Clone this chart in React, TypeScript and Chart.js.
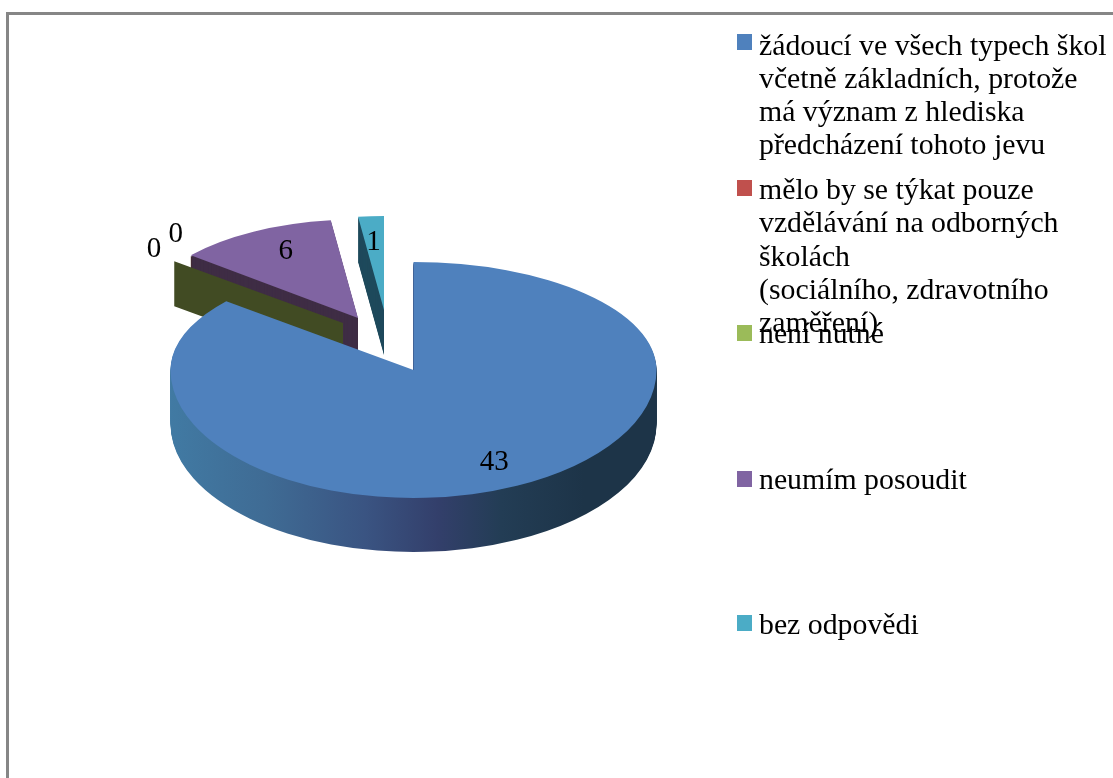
import React, { useEffect, useRef } from "react";
import { Chart, registerables } from "chart.js";

Chart.register(...registerables);

const categories = [
  ["žádoucí ve všech typech škol", "včetně základních, protože", "má význam z hlediska", "předcházení tohoto jevu"],
  ["mělo by se týkat pouze", "vzdělávání na odborných", "školách", "(sociálního, zdravotního", "zaměření)"],
  ["není nutné"],
  ["neumím posoudit"],
  ["bez odpovědi"],
];
const values = [43, 0, 0, 6, 1];
const faceColors = ["#4f81bd", "#c0504d", "#9bbb59", "#8064a2", "#4bacc6"];
const wallColors = ["#33466f", "#4a2a28", "#414b23", "#3f2d45", "#1f4a5c"];
const blueWallStops = ["#417aa3", "#3f6b94", "#3a5482", "#333f6b", "#233d55", "#1d3448", "#1d3448"];
const blueWallOffsets = [0, 0.2, 0.4, 0.55, 0.68, 0.85, 1];

const LABEL_FONT = '29px "Liberation Serif"';
const LEGEND_FONT = '29.8px "Liberation Serif"';
const RADIUS = 243;
const DEPTH_BLUE = 54;
const DEPTH = 45;
const LABEL_BASELINE_SHIFT = 2.5;

// 3D-look placement of every slice: tip position, horizontal and vertical scale of its radius
const projection = [
  { x: 413.5, y: 370, sx: 1, syUp: 108 / 243, syDown: 128 / 243, depth: DEPTH_BLUE, lx: 0.78, ly: 0.78 },
  { x: 358, y: 318, sx: 217 / 243, syUp: 97 / 243, syDown: 97 / 243, depth: DEPTH, lx: 1.09, ly: 1.4 },
  { x: 343, y: 323, sx: 219 / 243, syUp: 97 / 243, syDown: 97 / 243, depth: DEPTH, lx: 1.12, ly: 1.23 },
  { x: 358, y: 318, sx: 217 / 243, syUp: 98.5 / 243, syDown: 98.5 / 243, depth: DEPTH, lx: 0.69, ly: 0.8 },
  { x: 384, y: 310, sx: 207 / 243, syUp: 94 / 243, syDown: 94 / 243, depth: DEPTH, lx: 0.8, ly: 0.75 },
];
const drawOrder = [1, 3, 4, 2, 0];

const legendLayout = [
  { swatchTop: 34, baselines: [55, 88, 121, 154] },
  { swatchTop: 180, baselines: [199, 232, 266, 299, 332] },
  { swatchTop: 325, baselines: [343] },
  { swatchTop: 471, baselines: [489] },
  { swatchTop: 615, baselines: [634] },
];

function drawArcAt(ctx: any, arc: any, p: any, dy: number, fill: any) {
  const saved = arc.options;
  arc.options = { ...saved, backgroundColor: fill };
  const parts = [
    { sy: p.syUp, top: -10000, height: 10000 + p.y + dy },
    { sy: p.syDown, top: p.y + dy, height: 10000 },
  ];
  for (const part of parts) {
    ctx.save();
    ctx.beginPath();
    ctx.rect(-10000, part.top, 30000, part.height);
    ctx.clip();
    ctx.translate(p.x, p.y + dy);
    ctx.scale(p.sx, part.sy);
    ctx.translate(-arc.x, -arc.y);
    arc.draw(ctx);
    ctx.restore();
  }
  arc.options = saved;
}

const pie3dPlugin = {
  id: "pie3d",
  beforeDatasetsDraw(chart: any) {
    const ctx = chart.ctx;
    const arcs = chart.getDatasetMeta(0).data;
    for (const i of drawOrder) {
      const arc = arcs[i];
      const p = projection[i];
      if (arc.circumference === 0) {
        const r = arc.outerRadius;
        const ex = p.x + r * Math.cos(arc.startAngle) * p.sx;
        const ey = p.y + r * Math.sin(arc.startAngle) * p.syUp;
        ctx.fillStyle = wallColors[i];
        ctx.beginPath();
        ctx.moveTo(p.x, p.y);
        ctx.lineTo(ex, ey);
        ctx.lineTo(ex, ey + p.depth);
        ctx.lineTo(p.x, p.y + p.depth);
        ctx.closePath();
        ctx.fill();
        continue;
      }
      let wall: any = wallColors[i];
      if (i === 0) {
        wall = ctx.createLinearGradient(arc.x - arc.outerRadius, 0, arc.x + arc.outerRadius, 0);
        blueWallStops.forEach((c, k) => wall.addColorStop(blueWallOffsets[k], c));
      }
      for (let d = p.depth; d >= 1; d--) drawArcAt(ctx, arc, p, d, wall);
      drawArcAt(ctx, arc, p, 0, faceColors[i]);
    }
    return false;
  },
  afterDraw(chart: any) {
    const ctx = chart.ctx;
    const arcs = chart.getDatasetMeta(0).data;
    ctx.save();
    ctx.font = LABEL_FONT;
    ctx.fillStyle = "#000000";
    ctx.textAlign = "center";
    ctx.textBaseline = "middle";
    arcs.forEach((arc: any, i: number) => {
      const p = projection[i];
      const mid = (arc.startAngle + arc.endAngle) / 2;
      const sin = Math.sin(mid);
      const sy = sin > 0 ? p.syDown : p.syUp;
      const x = p.x + arc.outerRadius * Math.cos(mid) * p.sx * p.lx;
      const y = p.y + arc.outerRadius * sin * sy * p.ly + LABEL_BASELINE_SHIFT;
      ctx.fillText(String(values[i]), x, y);
    });
    ctx.font = LEGEND_FONT;
    ctx.textAlign = "left";
    ctx.textBaseline = "alphabetic";
    categories.forEach((lines, i) => {
      const l = legendLayout[i];
      ctx.fillStyle = faceColors[i];
      ctx.fillRect(737, l.swatchTop, 15, 16);
      ctx.fillStyle = "#000000";
      lines.forEach((t, k) => ctx.fillText(t, 759, l.baselines[k]));
    });
    ctx.restore();
  },
};

export default function App() {
  const ref = useRef<HTMLCanvasElement>(null);
  useEffect(() => {
    const chart = new Chart(ref.current as any, {
      type: "pie",
      data: {
        labels: categories.map((c) => c.join(" ")),
        datasets: [{ data: values, backgroundColor: faceColors, borderWidth: 0, radius: RADIUS } as any],
      },
      options: {
        animation: false,
        responsive: false,
        plugins: { legend: { display: false }, tooltip: { enabled: false } },
      } as any,
      plugins: [pie3dPlugin as any],
    });
    return () => chart.destroy();
  }, []);
  return (
    <div style={{ position: "fixed", left: 0, top: 0, width: 1113, height: 778, background: "#fff", overflow: "hidden" }}>
      <div style={{ position: "absolute", left: 6, top: 12, width: 1200, height: 900, borderLeft: "3px solid #868686", borderTop: "3px solid #868686" }} />
      <canvas ref={ref} width={1113} height={778} style={{ position: "absolute", left: 0, top: 0 }} />
    </div>
  );
}
